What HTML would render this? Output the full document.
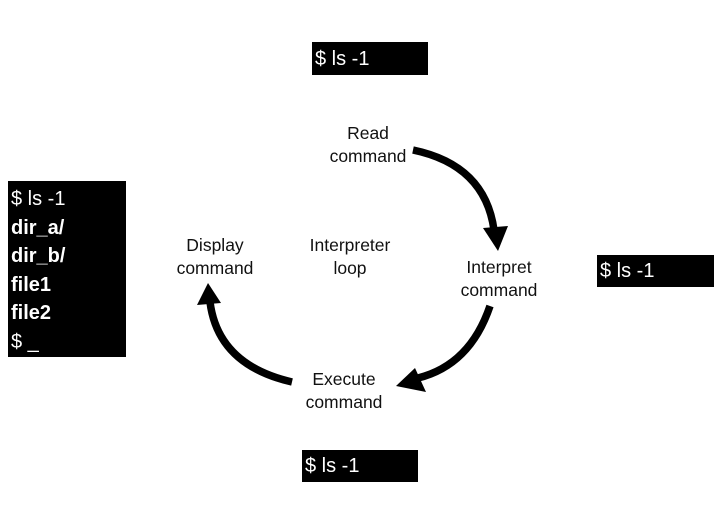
<!DOCTYPE html>
<html><head><style>
body{margin:0;width:722px;height:522px;background:#fff;position:relative;overflow:hidden;font-family:"Liberation Sans",sans-serif}
.b{position:absolute;background:#000;color:#fff;font-size:20px;line-height:24px;padding-left:3px;box-sizing:border-box}
.l{position:absolute;text-align:center;font-size:17.5px;line-height:23px;color:#111;width:120px}
.bold{font-weight:bold}
</style></head><body>
<div class="b" style="left:312px;top:42px;width:116px;height:33px;padding-top:5px">$ ls -1</div>
<div class="b" style="left:597px;top:255px;width:117px;height:32px;padding-top:4px">$ ls -1</div>
<div class="b" style="left:302px;top:450px;width:116px;height:32px;padding-top:4px">$ ls -1</div>
<div class="b" style="left:8px;top:181px;width:118px;height:176px;padding-top:4px;line-height:28.5px">$ ls -1<br><span class="bold">dir_a/<br>dir_b/<br>file1<br>file2</span><br>$ _</div>
<div class="l" style="left:308px;top:122px">Read<br>command</div>
<div class="l" style="left:439px;top:256px">Interpret<br>command</div>
<div class="l" style="left:284px;top:368px">Execute<br>command</div>
<div class="l" style="left:155px;top:234px">Display<br>command</div>
<div class="l" style="left:290px;top:234px">Interpreter<br>loop</div>
<svg width="722" height="522" style="position:absolute;left:0;top:0">
<g fill="none" stroke="#000" stroke-width="7.5">
<path d="M413 150 Q485 165 494 230"/>
<path d="M490 306 Q470 365 418 378"/>
<path d="M292 382 Q218 365 210 302"/>
</g>
<g fill="#000">
<polygon points="483,228 508,226 498,251"/>
<polygon points="415,368 426,392 396,386"/>
<polygon points="197,305 221,303 208,283"/>
</g>
</svg>
</body></html>
